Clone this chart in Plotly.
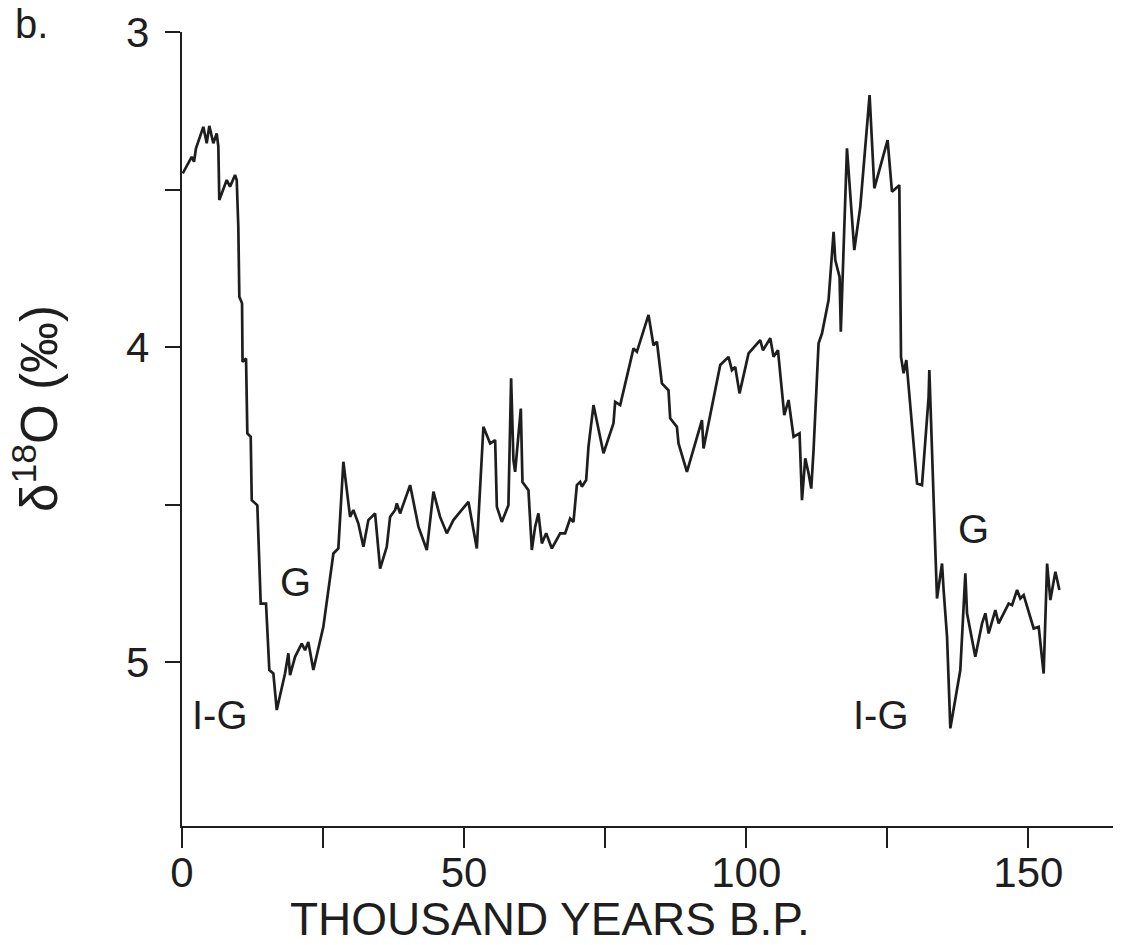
import plotly.graph_objects as go

# Age (thousand years B.P.) and delta-18O (per mil)
age_kyr = [0.12, 1.72, 2.13, 2.48, 3.78, 4.38, 4.84, 5.55, 6.15, 6.44, 6.61, 7.93, 8.51, 9.40, 9.70,
           9.98, 10.16, 10.64, 10.73, 11.35, 11.58, 12.18, 12.36, 13.35, 13.95, 14.89, 15.48, 16.19,
           16.79, 18.26, 18.85, 19.15, 20.04, 21.22, 21.81, 22.39, 23.28, 25.05, 26.83, 27.71, 28.60,
           29.79, 30.37, 31.26, 32.15, 33.03, 34.22, 35.11, 36.29, 36.88, 37.77, 38.07, 38.65, 40.43,
           41.90, 43.39, 44.56, 45.74, 46.93, 48.10, 50.76, 52.25, 53.42, 54.61, 55.50, 55.80, 56.68,
           57.85, 58.33, 58.74, 59.04, 60.05, 60.34, 61.40, 62.00, 62.59, 63.17, 63.78, 64.54, 65.55,
           67.02, 67.91, 68.79, 69.38, 69.98, 70.57, 70.87, 71.63, 72.04, 72.93, 74.70, 76.47, 76.77,
           77.66, 80.02, 80.62, 82.68, 83.56, 84.17, 85.05, 86.22, 86.52, 87.71, 88.00, 89.49, 92.15,
           92.43, 95.39, 96.86, 97.46, 98.05, 98.81, 100.41, 102.48, 102.96, 104.26, 104.84, 105.62,
           106.74, 107.50, 108.39, 109.45, 109.88, 110.46, 111.05, 111.52, 111.93, 112.82, 113.42,
           114.59, 115.48, 115.78, 116.54, 116.76, 117.85, 118.14, 119.15, 120.21, 121.86, 122.70,
           125.05, 125.83, 127.13, 127.43, 127.89, 128.37, 130.27, 131.15, 132.32, 132.45, 132.93,
           133.51, 133.81, 134.70, 134.98, 135.59, 136.17, 137.94, 138.83, 139.13, 140.60, 141.79,
           142.38, 142.96, 144.15, 144.73, 146.51, 147.11, 148.00, 148.58, 149.17, 150.94, 151.83,
           152.71, 153.32, 153.90, 154.79, 155.50]
d18o = [3.449, 3.396, 3.412, 3.369, 3.301, 3.353, 3.298, 3.353, 3.322, 3.364, 3.533, 3.470, 3.491, 3.454,
        3.470, 3.618, 3.840, 3.861, 4.047, 4.036, 4.274, 4.285, 4.486, 4.502, 4.814, 4.814, 5.025, 5.036,
        5.152, 5.036, 4.972, 5.041, 4.983, 4.941, 4.962, 4.936, 5.025, 4.888, 4.655, 4.639, 4.364,
        4.539, 4.517, 4.560, 4.634, 4.549, 4.528, 4.703, 4.634, 4.539, 4.517, 4.496, 4.528, 4.438,
        4.570, 4.644, 4.459, 4.539, 4.591, 4.549, 4.491, 4.639, 4.253, 4.306, 4.295, 4.507, 4.555,
        4.502, 4.099, 4.359, 4.396, 4.195, 4.428, 4.454, 4.644, 4.570, 4.528, 4.623, 4.591, 4.639,
        4.591, 4.591, 4.544, 4.555, 4.438, 4.428, 4.443, 4.422, 4.316, 4.184, 4.337, 4.242, 4.174,
        4.184, 4.004, 4.015, 3.898, 3.994, 3.983, 4.115, 4.137, 4.226, 4.253, 4.306, 4.396, 4.232,
        4.322, 4.057, 4.031, 4.073, 4.063, 4.147, 4.020, 3.978, 4.010, 3.972, 4.031, 4.010,
        4.216, 4.168, 4.285, 4.274, 4.486, 4.353, 4.401, 4.449, 4.327, 3.988, 3.957,
        3.851, 3.634, 3.724, 3.777, 3.951, 3.369, 3.449, 3.692, 3.555, 3.200, 3.496,
        3.343, 3.507, 3.486, 4.031, 4.083, 4.041, 4.433, 4.438, 4.158, 4.073, 4.359,
        4.644, 4.798, 4.687, 4.771, 4.920, 5.210, 5.025, 4.718, 4.845, 4.983, 4.877,
        4.845, 4.909, 4.835, 4.877, 4.814, 4.819, 4.771, 4.798, 4.787, 4.893, 4.888,
        5.036, 4.687, 4.803, 4.713, 4.771]

x_tick_vals = [0, 25, 50, 75, 100, 125, 150]
x_tick_text = ["0", "", "50", "", "100", "", "150"]
y_tick_vals = [3.0, 3.5, 4.0, 4.5, 5.0]
y_tick_text = ["3", "", "4", "", "5"]

label_text = ["G", "I-G", "G", "I-G"]
label_x = [20.2, 6.7, 140.2, 123.8]
label_y = [4.746, 5.168, 4.578, 5.168]

INK = "#1e1e1e"
FONT = "Liberation Sans"

# plot area in page pixels (page has an 8px body margin)
PX0, PX1, PY0, PY1 = 182, 1113, 32, 826
PW, PH = PX1 - PX0, PY1 - PY0


def px(xp):
    return (xp - PX0) / PW


def py(yp):
    return (PY1 - yp) / PH


fig = go.Figure()
fig.add_trace(go.Scatter(x=age_kyr, y=d18o, mode="lines",
                         line=dict(color=INK, width=2.7), hoverinfo="skip", showlegend=False))

for t, lx, ly in zip(label_text, label_x, label_y):
    fig.add_annotation(x=lx, y=ly, text=t, showarrow=False,
                       font=dict(family=FONT, size=40, color=INK))

fig.add_annotation(xref="paper", yref="paper", x=px(550), y=py(919),
                   text="THOUSAND YEARS B.P.", showarrow=False, xanchor="center", yanchor="middle",
                   font=dict(family=FONT, size=46, color=INK))
fig.add_annotation(xref="paper", yref="paper", x=px(36), y=py(409), textangle=-90,
                   text="δ<sup>18</sup>O (‰)", showarrow=False, xanchor="center", yanchor="middle",
                   font=dict(family=FONT, size=51, color=INK))
fig.add_annotation(xref="paper", yref="paper", x=px(31), y=py(24),
                   text="b.", showarrow=False, xanchor="center", yanchor="middle",
                   font=dict(family=FONT, size=40, color=INK))

fig.update_layout(
    width=1115, height=929,
    margin=dict(l=PX0 - 8, r=1123 - PX1, t=PY0 - 8, b=937 - PY1),
    paper_bgcolor="white", plot_bgcolor="white",
    font=dict(family=FONT, color=INK),
    xaxis=dict(range=[0, 165], tickvals=x_tick_vals, ticktext=x_tick_text, automargin=False,
               ticks="outside", ticklen=20, tickwidth=2, tickcolor=INK,
               showline=True, linewidth=2.4, linecolor=INK, showgrid=False, zeroline=False,
               ticklabelstandoff=-12,
               tickfont=dict(family=FONT, size=42, color=INK)),
    yaxis=dict(range=[5.52, 3.0], tickvals=y_tick_vals, ticktext=y_tick_text, automargin=False,
               ticks="outside", ticklen=15, tickwidth=2, tickcolor=INK,
               showline=True, linewidth=2.4, linecolor=INK, showgrid=False, zeroline=False,
               ticklabelstandoff=7,
               tickfont=dict(family=FONT, size=42, color=INK)),
)

fig.write_html("out.html")
